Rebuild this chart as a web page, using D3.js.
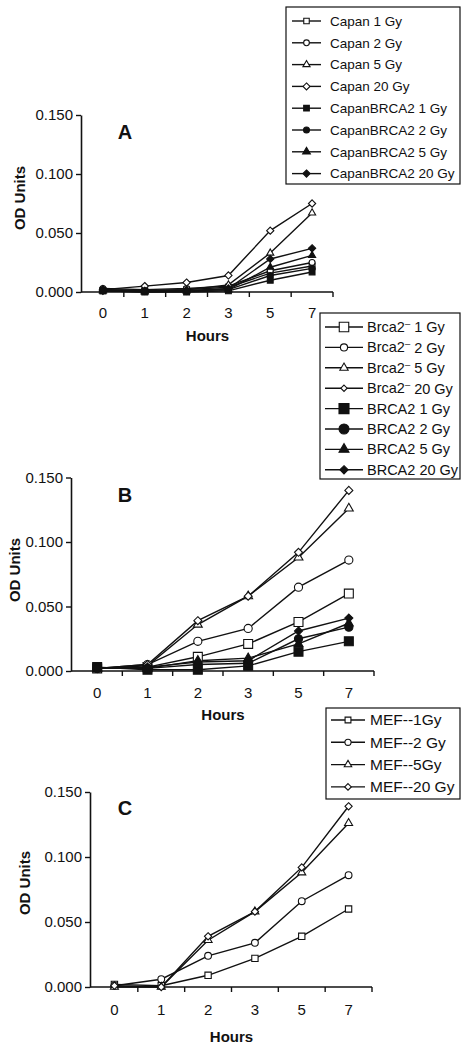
<!DOCTYPE html>
<html>
<head>
<meta charset="utf-8">
<script src="https://cdn.jsdelivr.net/npm/d3@7"></script>
<style>
  html, body { margin: 0; padding: 0; background: #fff; }
  svg { display: block; font-family: "Liberation Sans", Arial, sans-serif; }
</style>
</head>
<body>
<svg id="chart" width="473" height="1050"></svg>
<script>
// ---------- DATA ----------
const hours = ["0", "1", "2", "3", "5", "7"];
const yTickValues = [0, 0.05, 0.1, 0.15];

// Panel A
const namesA = ["Capan 1 Gy", "Capan 2 Gy", "Capan 5 Gy", "Capan 20 Gy",
  "CapanBRCA2 1 Gy", "CapanBRCA2 2 Gy", "CapanBRCA2 5 Gy", "CapanBRCA2 20 Gy"];
const capan1 = [0.001, 0.001, 0.002, 0.004, 0.016, 0.022];
const capan2 = [0.003, 0.002, 0.003, 0.005, 0.018, 0.025];
const capan5 = [0.002, 0.001, 0.002, 0.006, 0.033, 0.067];
const capan20 = [0.002, 0.005, 0.008, 0.014, 0.052, 0.075];
const capanBRCA1 = [0.001, 0.000, 0.000, 0.001, 0.010, 0.017];
const capanBRCA2 = [0.002, 0.001, 0.001, 0.002, 0.014, 0.020];
const capanBRCA5 = [0.001, 0.000, 0.001, 0.002, 0.021, 0.031];
const capanBRCA20 = [0.001, 0.001, 0.001, 0.003, 0.028, 0.037];

// Panel B
const namesB = ["Brca2", "Brca2", "Brca2", "Brca2", "BRCA2 1 Gy", "BRCA2 2 Gy", "BRCA2 5 Gy", "BRCA2 20 Gy"];
const namesBSuffix = [" 1 Gy", " 2 Gy", " 5 Gy", " 20 Gy", "", "", "", ""];
const brcaNeg1 = [0.002, 0.003, 0.011, 0.021, 0.038, 0.060];
const brcaNeg2 = [0.002, 0.005, 0.023, 0.033, 0.065, 0.086];
const brcaNeg5 = [0.002, 0.004, 0.036, 0.058, 0.088, 0.126];
const brcaNeg20 = [0.002, 0.005, 0.039, 0.058, 0.092, 0.140];
const brcaPos1 = [0.003, 0.001, 0.001, 0.004, 0.015, 0.023];
const brcaPos2 = [0.002, 0.002, 0.005, 0.006, 0.025, 0.034];
const brcaPos5 = [0.002, 0.002, 0.008, 0.010, 0.021, 0.037];
const brcaPos20 = [0.002, 0.003, 0.007, 0.008, 0.031, 0.041];

// Panel C
const namesC = ["MEF--1Gy", "MEF--2 Gy", "MEF--5Gy", "MEF--20 Gy"];
const mef1 = [0.002, 0.001, 0.009, 0.022, 0.039, 0.060];
const mef2 = [0.001, 0.006, 0.024, 0.034, 0.066, 0.086];
const mef5 = [0.000, 0.000, 0.036, 0.058, 0.088, 0.126];
const mef20 = [0.001, 0.000, 0.039, 0.058, 0.092, 0.139];

// ---------- SYMBOLS ----------
const diamondSym = { draw(ctx, size) { const r = Math.sqrt(size / 2); ctx.moveTo(0, -r); ctx.lineTo(r, 0); ctx.lineTo(0, r); ctx.lineTo(-r, 0); ctx.closePath(); } };
const shapes = [d3.symbolSquare, d3.symbolCircle, d3.symbolTriangle, diamondSym];

const svg = d3.select("#chart");
const ink = "#111";

function drawPanel(cfg) {
  const g = svg.append("g");
  const x = d3.scaleBand().domain(hours).range([cfg.x0, cfg.x1]);
  const y = d3.scaleLinear().domain([0, 0.15]).range([cfg.yZero, cfg.yTop]);

  // y axis
  const yAxis = d3.axisLeft(y).tickValues(yTickValues).tickFormat(d3.format(".3f")).tickSize(5).tickSizeOuter(0);
  const ya = g.append("g").attr("transform", `translate(${cfg.x0 - 1},0)`).call(yAxis);
  ya.select(".domain").attr("stroke", ink).attr("stroke-width", 1.6);
  ya.selectAll(".tick line").attr("stroke", ink).attr("stroke-width", 1.4);
  ya.selectAll(".tick text").attr("font-size", 15).attr("fill", ink).attr("x", -8)
    .attr("font-family", "Liberation Sans, Arial, sans-serif");

  // x axis (ticks at band boundaries)
  const xa = g.append("g").attr("transform", `translate(0,${cfg.yZero})`);
  xa.append("line").attr("x1", cfg.x0 - 1).attr("x2", cfg.x1).attr("stroke", ink).attr("stroke-width", 1.6);
  const bounds = hours.map(h => x(h)).concat([cfg.x1]);
  xa.selectAll("line.tk").data(bounds.slice(1)).join("line").attr("class", "tk")
    .attr("x1", d => d).attr("x2", d => d).attr("y1", 0).attr("y2", 5).attr("stroke", ink).attr("stroke-width", 1.4);
  xa.selectAll("text").data(hours).join("text")
    .attr("x", d => x(d) + x.bandwidth() / 2).attr("y", cfg.xLabelY - cfg.yZero).attr("dy", "0.35em")
    .attr("text-anchor", "middle").attr("font-size", 15).attr("fill", ink).text(d => d);

  // axis titles
  g.append("text").attr("x", (cfg.x0 + cfg.x1) / 2).attr("y", cfg.hoursY).attr("dy", "0.35em")
    .attr("text-anchor", "middle").attr("font-size", 15).attr("font-weight", "bold").attr("fill", ink).text("Hours");
  g.append("text").attr("transform", `translate(${cfg.odX},${cfg.odY}) rotate(-90)`).attr("dy", "0.35em")
    .attr("text-anchor", "middle").attr("font-size", 15).attr("font-weight", "bold").attr("fill", ink).text("OD Units");
  g.append("text").attr("x", cfg.letterX).attr("y", cfg.letterY).attr("dy", "0.35em")
    .attr("text-anchor", "middle").attr("font-size", 20).attr("font-weight", "bold").attr("fill", ink).text(cfg.letter);

  const line = d3.line().x((d, i) => x(hours[i]) + x.bandwidth() / 2).y(d => y(d));

  cfg.series.forEach((s, k) => {
    g.append("path").datum(s.values).attr("d", line).attr("fill", "none").attr("stroke", ink).attr("stroke-width", 1.4);
  });
  cfg.series.forEach((s, k) => {
    const sym = d3.symbol().type(shapes[s.shape]).size(cfg.sizes[s.shape]);
    g.selectAll(null).data(s.values).join("path")
      .attr("transform", (d, i) => `translate(${x(hours[i]) + x.bandwidth() / 2},${y(d)})`)
      .attr("d", sym).attr("fill", s.filled ? ink : "#fff").attr("stroke", ink).attr("stroke-width", 1.1);
  });

  // legend
  const L = cfg.legend;
  const lg = svg.append("g");
  lg.append("rect").attr("x", L.x0).attr("y", L.y0).attr("width", L.x1 - L.x0).attr("height", L.y1 - L.y0)
    .attr("fill", "#fff").attr("stroke", ink).attr("stroke-width", 1.2);
  cfg.series.forEach((s, k) => {
    const cy = L.row0 + k * L.step;
    lg.append("line").attr("x1", L.lx0).attr("x2", L.lx1).attr("y1", cy).attr("y2", cy).attr("stroke", ink).attr("stroke-width", 1.4);
    const sym = d3.symbol().type(shapes[s.shape]).size(L.sizes[k]);
    lg.append("path").attr("transform", `translate(${(L.lx0 + L.lx1) / 2},${cy})`).attr("d", sym)
      .attr("fill", s.filled ? ink : "#fff").attr("stroke", ink).attr("stroke-width", 1.1);
    const t = lg.append("text").attr("x", L.tx).attr("y", cy).attr("dy", "0.35em")
      .attr("font-size", L.font).attr("fill", ink);
    t.append("tspan").text(s.name);
    if (s.sup) {
      t.append("tspan").attr("font-size", L.font * 0.65).attr("dy", "-0.55em").text("–");
      t.append("tspan").attr("dy", "0.38em").text(s.suffix);
    }
  });
}

drawPanel({
  letter: "A", x0: 82, x1: 333, yZero: 292, yTop: 115, xLabelY: 313, hoursY: 336, odX: 20, odY: 198, letterX: 125, letterY: 132,
  sizes: [34, 28, 22, 26],
  series: [
    { name: namesA[0], values: capan1, shape: 0, filled: false },
    { name: namesA[1], values: capan2, shape: 1, filled: false },
    { name: namesA[2], values: capan5, shape: 2, filled: false },
    { name: namesA[3], values: capan20, shape: 3, filled: false },
    { name: namesA[4], values: capanBRCA1, shape: 0, filled: true },
    { name: namesA[5], values: capanBRCA2, shape: 1, filled: true },
    { name: namesA[6], values: capanBRCA5, shape: 2, filled: true },
    { name: namesA[7], values: capanBRCA20, shape: 3, filled: true }
  ],
  legend: { x0: 286, x1: 460, y0: 7, y1: 184, row0: 21, step: 21.8, lx0: 292, lx1: 321, tx: 330, font: 13.5,
    sizes: [30, 26, 22, 24, 32, 28, 26, 26] }
});

drawPanel({
  letter: "B", x0: 72, x1: 374, yZero: 671, yTop: 477.5, xLabelY: 693, hoursY: 715, odX: 15, odY: 570, letterX: 125, letterY: 495,
  sizes: [80, 52, 34, 32],
  series: [
    { name: namesB[0], suffix: namesBSuffix[0], sup: true, values: brcaNeg1, shape: 0, filled: false },
    { name: namesB[1], suffix: namesBSuffix[1], sup: true, values: brcaNeg2, shape: 1, filled: false },
    { name: namesB[2], suffix: namesBSuffix[2], sup: true, values: brcaNeg5, shape: 2, filled: false },
    { name: namesB[3], suffix: namesBSuffix[3], sup: true, values: brcaNeg20, shape: 3, filled: false },
    { name: namesB[4], values: brcaPos1, shape: 0, filled: true },
    { name: namesB[5], values: brcaPos2, shape: 1, filled: true },
    { name: namesB[6], values: brcaPos5, shape: 2, filled: true },
    { name: namesB[7], values: brcaPos20, shape: 3, filled: true }
  ],
  legend: { x0: 320, x1: 460, y0: 313, y1: 479, row0: 327, step: 20.4, lx0: 325, lx1: 363, tx: 367, font: 14.5,
    sizes: [90, 40, 30, 20, 100, 78, 43, 34] }
});

drawPanel({
  letter: "C", x0: 91, x1: 372, yZero: 987, yTop: 792, xLabelY: 1010, hoursY: 1037, odX: 25, odY: 883, letterX: 125, letterY: 808,
  sizes: [40, 36, 28, 26],
  series: [
    { name: namesC[0], values: mef1, shape: 0, filled: false },
    { name: namesC[1], values: mef2, shape: 1, filled: false },
    { name: namesC[2], values: mef5, shape: 2, filled: false },
    { name: namesC[3], values: mef20, shape: 3, filled: false }
  ],
  legend: { x0: 326, x1: 460, y0: 708, y1: 799, row0: 720, step: 22.3, lx0: 331, lx1: 365, tx: 370, font: 15.5,
    sizes: [34, 30, 24, 22] }
});
</script>
</body>
</html>
